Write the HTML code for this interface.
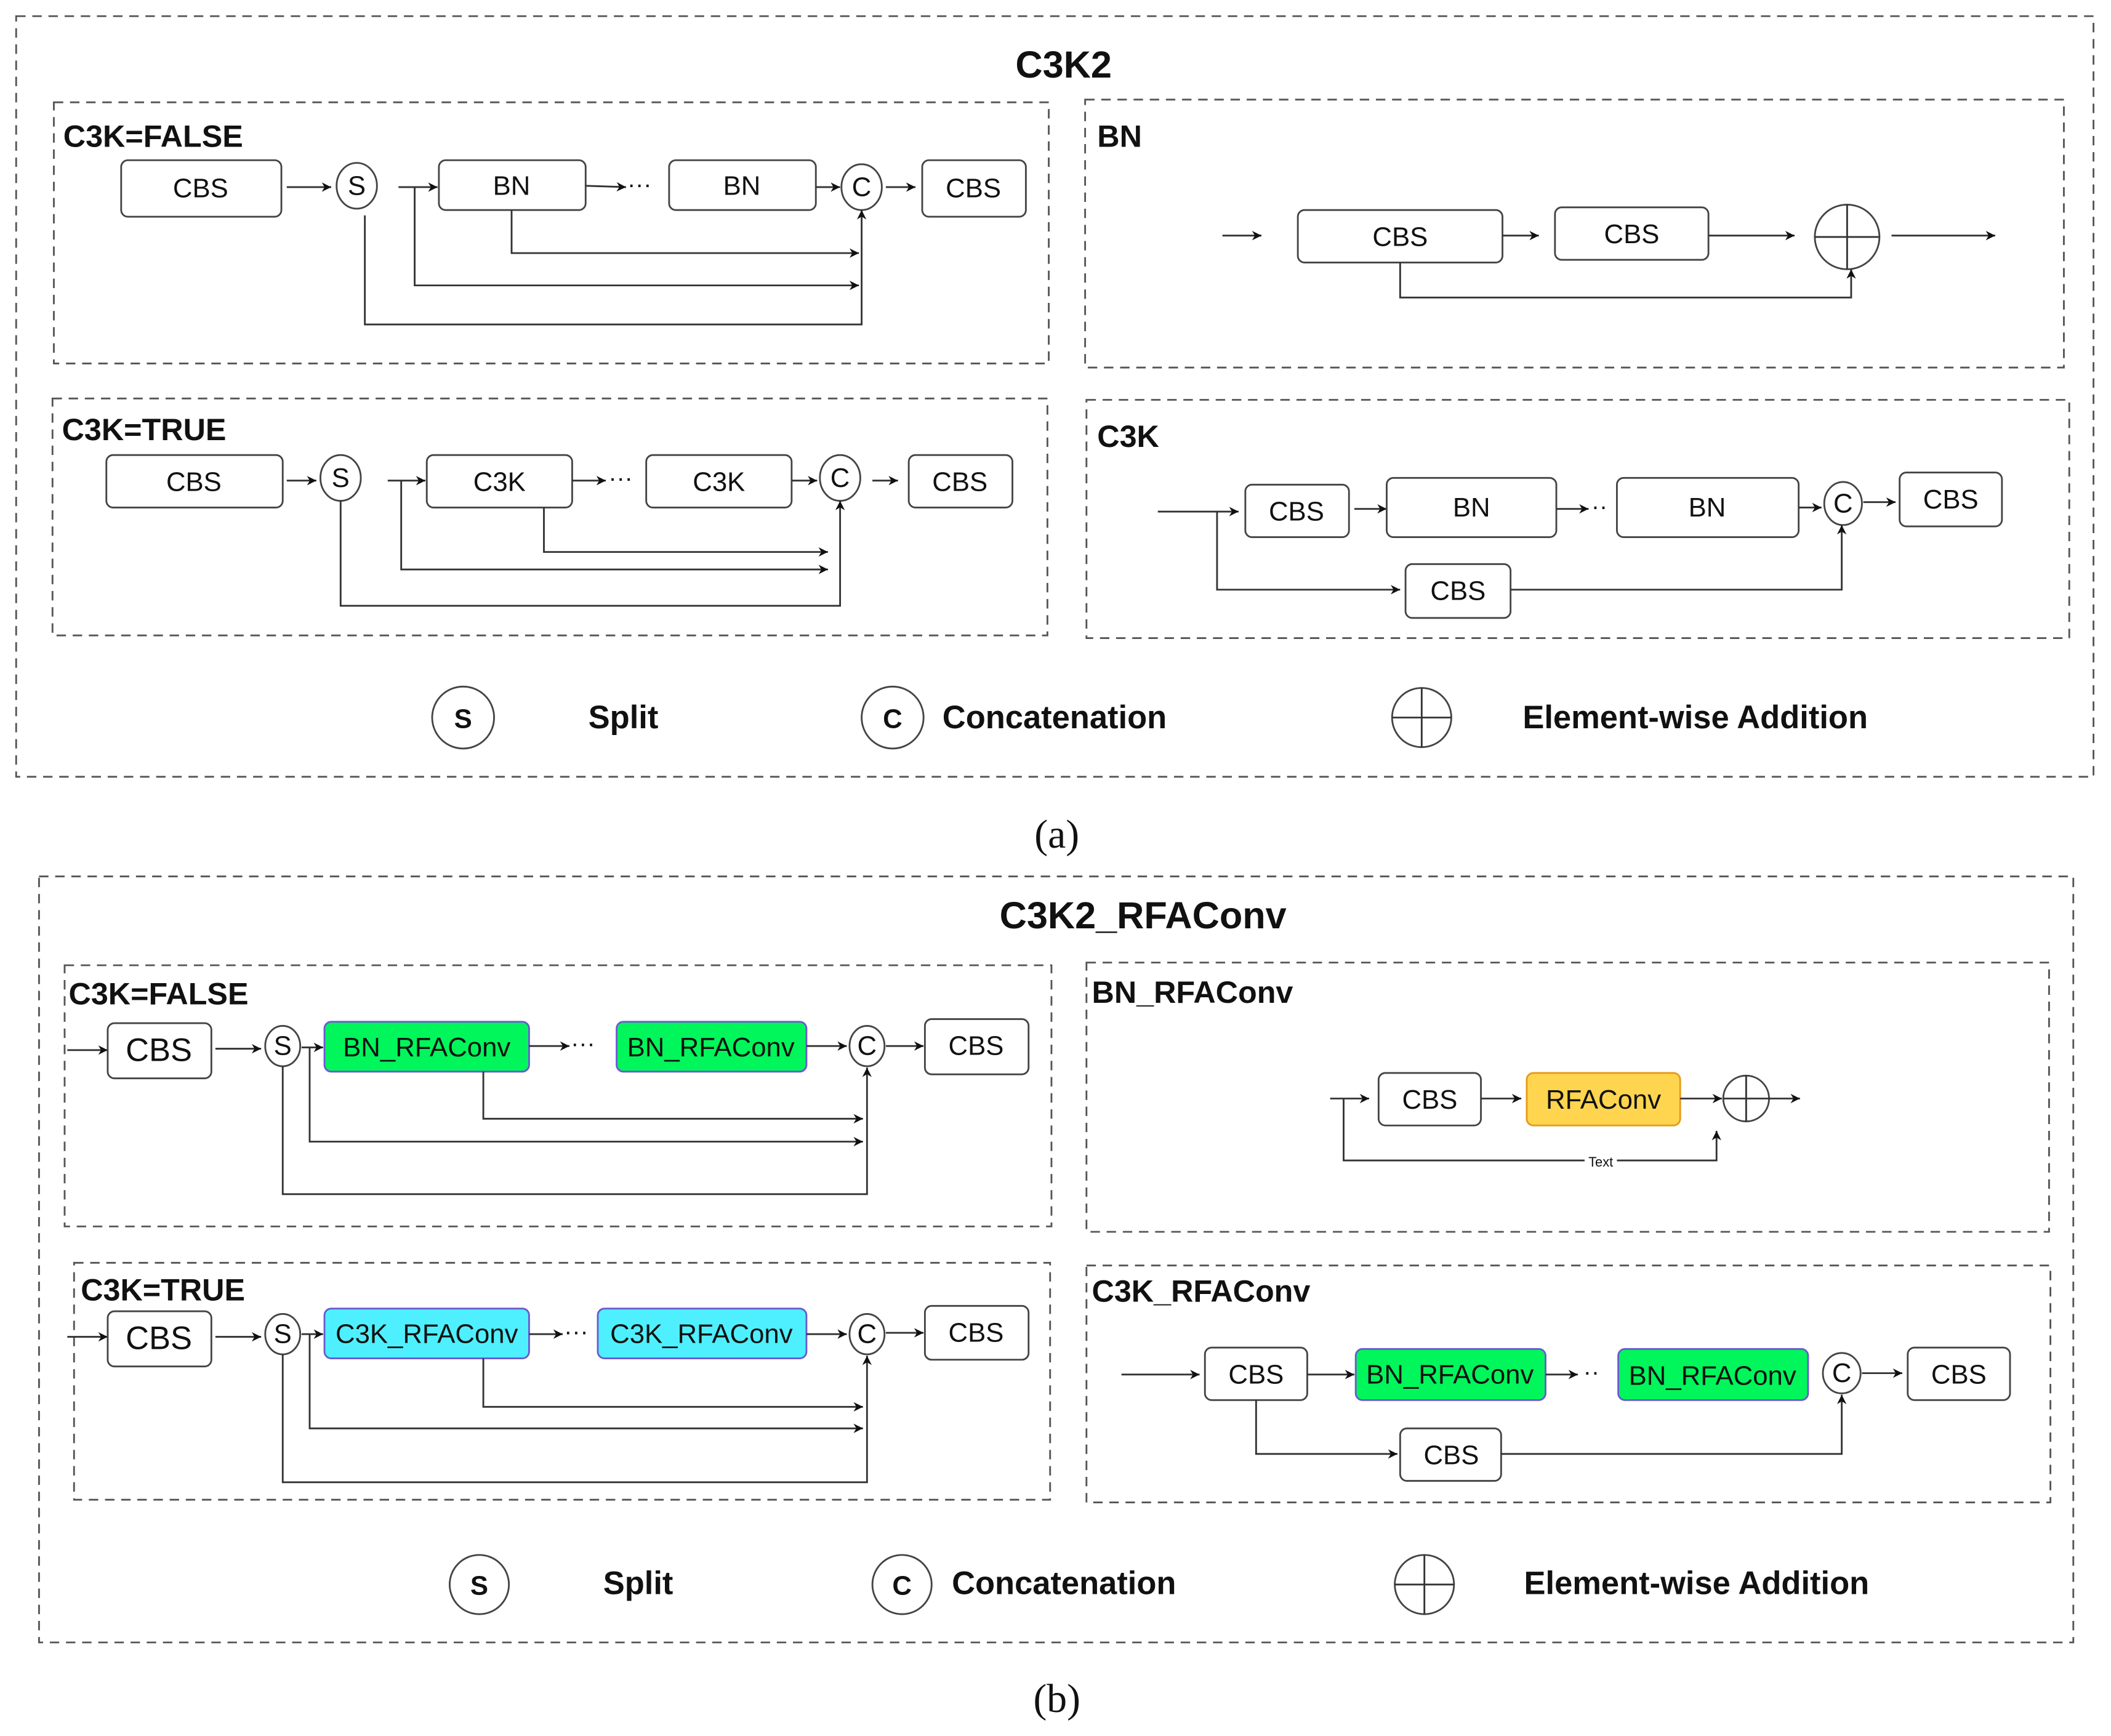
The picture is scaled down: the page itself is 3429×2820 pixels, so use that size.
<!DOCTYPE html>
<html><head><meta charset="utf-8"><style>
html,body{margin:0;padding:0;background:#fff;}
svg{display:block;}
text{font-family:"Liberation Sans",Arial,sans-serif;fill:#111;}
.b{fill:#fff;stroke:#444;stroke-width:1.3;}
.d{fill:none;stroke:#555;stroke-width:1.3;stroke-dasharray:7,5;}
.l{fill:none;stroke:#333;stroke-width:1.3;}
.t{font-size:20px;text-anchor:middle;dominant-baseline:central;}
.h{font-size:23px;font-weight:bold;}
.lg{font-size:24px;font-weight:bold;dominant-baseline:central;}
</style></head><body>
<svg width="3429" height="2820" viewBox="0 0 1568 1289.5" preserveAspectRatio="none">
<defs><marker id="a" viewBox="0 0 10 10" refX="10" refY="5" markerWidth="7" markerHeight="7" markerUnits="userSpaceOnUse" orient="auto"><path d="M0,0L10,5L0,10L3,5z" fill="#111"/></marker></defs>

<!-- (a) -->
<rect class="d" x="12" y="12" width="1543" height="565"/>
<text x="790" y="48" style="font-size:28px;font-weight:bold;text-anchor:middle;dominant-baseline:central">C3K2</text>
<rect class="d" x="40" y="76" width="739" height="194"/>
<rect class="d" x="806" y="74" width="727" height="199"/>
<rect class="d" x="39" y="296" width="739" height="176"/>
<rect class="d" x="807" y="297" width="730" height="177"/>

<!-- C3K=FALSE -->
<text class="h" x="47" y="109">C3K=FALSE</text>
<rect class="b" x="90" y="119" width="119" height="42" rx="5"/><text class="t" x="149" y="140">CBS</text>
<line class="l" x1="213" y1="139" x2="246" y2="139" marker-end="url(#a)"/>
<ellipse class="b" cx="265" cy="138" rx="15" ry="17"/><text class="t" x="265" y="138">S</text>
<line class="l" x1="296" y1="139" x2="325" y2="139" marker-end="url(#a)"/>
<rect class="b" x="326" y="119" width="109" height="37" rx="5"/><text class="t" x="380" y="138">BN</text>
<line class="l" x1="435" y1="138" x2="465" y2="139" marker-end="url(#a)"/><text x="466" y="143" style="font-size:18px">···</text>
<rect class="b" x="497" y="119" width="109" height="37" rx="5"/><text class="t" x="551" y="138">BN</text>
<line class="l" x1="606" y1="139" x2="624" y2="139" marker-end="url(#a)"/>
<ellipse class="b" cx="640" cy="139" rx="15" ry="17"/><text class="t" x="640" y="139">C</text>
<line class="l" x1="658" y1="139" x2="680" y2="139" marker-end="url(#a)"/>
<rect class="b" x="685" y="119" width="77" height="42" rx="5"/><text class="t" x="723" y="140">CBS</text>
<polyline class="l" points="380,156 380,188 638,188" marker-end="url(#a)"/>
<polyline class="l" points="308,139 308,212 638,212" marker-end="url(#a)"/>
<polyline class="l" points="271,160 271,241 640,241 640,156" marker-end="url(#a)"/>

<!-- BN -->
<text class="h" x="815" y="109">BN</text>
<line class="l" x1="908" y1="175" x2="937" y2="175" marker-end="url(#a)"/>
<rect class="b" x="964" y="156" width="152" height="39" rx="5"/><text class="t" x="1040" y="176">CBS</text>
<line class="l" x1="1116" y1="175" x2="1143" y2="175" marker-end="url(#a)"/>
<rect class="b" x="1155" y="154" width="114" height="39" rx="5"/><text class="t" x="1212" y="174">CBS</text>
<line class="l" x1="1269" y1="175" x2="1333" y2="175" marker-end="url(#a)"/>
<circle class="b" cx="1372" cy="176" r="24"/><path class="l" d="M1348,176H1396M1372,152V200"/>
<line class="l" x1="1405" y1="175" x2="1482" y2="175" marker-end="url(#a)"/>
<polyline class="l" points="1040,195 1040,221 1375,221 1375,200" marker-end="url(#a)"/>

<!-- C3K=TRUE -->
<text class="h" x="46" y="327">C3K=TRUE</text>
<rect class="b" x="79" y="338" width="131" height="39" rx="5"/><text class="t" x="144" y="358">CBS</text>
<line class="l" x1="213" y1="357" x2="235" y2="357" marker-end="url(#a)"/>
<ellipse class="b" cx="253" cy="355" rx="15" ry="17"/><text class="t" x="253" y="355">S</text>
<line class="l" x1="288" y1="357" x2="316" y2="357" marker-end="url(#a)"/>
<rect class="b" x="317" y="338" width="108" height="39" rx="5"/><text class="t" x="371" y="358">C3K</text>
<line class="l" x1="425" y1="357" x2="450" y2="357" marker-end="url(#a)"/><text x="452" y="361" style="font-size:18px">···</text>
<rect class="b" x="480" y="338" width="108" height="39" rx="5"/><text class="t" x="534" y="358">C3K</text>
<line class="l" x1="588" y1="357" x2="607" y2="357" marker-end="url(#a)"/>
<ellipse class="b" cx="624" cy="355" rx="15" ry="17"/><text class="t" x="624" y="355">C</text>
<line class="l" x1="648" y1="357" x2="667" y2="357" marker-end="url(#a)"/>
<rect class="b" x="675" y="338" width="77" height="39" rx="5"/><text class="t" x="713" y="358">CBS</text>
<polyline class="l" points="404,377 404,410 615,410" marker-end="url(#a)"/>
<polyline class="l" points="298,357 298,423 615,423" marker-end="url(#a)"/>
<polyline class="l" points="253,372 253,450 624,450 624,372" marker-end="url(#a)"/>

<!-- C3K -->
<text class="h" x="815" y="332">C3K</text>
<line class="l" x1="860" y1="380" x2="920" y2="380" marker-end="url(#a)"/>
<rect class="b" x="925" y="360" width="77" height="39" rx="5"/><text class="t" x="963" y="380">CBS</text>
<line class="l" x1="1006" y1="378" x2="1030" y2="378" marker-end="url(#a)"/>
<rect class="b" x="1030" y="355" width="126" height="44" rx="5"/><text class="t" x="1093" y="377">BN</text>
<line class="l" x1="1156" y1="378" x2="1180" y2="378" marker-end="url(#a)"/><text x="1182" y="382" style="font-size:18px">··</text>
<rect class="b" x="1201" y="355" width="135" height="44" rx="5"/><text class="t" x="1268" y="377">BN</text>
<line class="l" x1="1336" y1="377" x2="1353" y2="377" marker-end="url(#a)"/>
<ellipse class="b" cx="1369" cy="374" rx="14" ry="16"/><text class="t" x="1369" y="374">C</text>
<line class="l" x1="1384" y1="373" x2="1408" y2="373" marker-end="url(#a)"/>
<rect class="b" x="1411" y="351" width="76" height="40" rx="5"/><text class="t" x="1449" y="371">CBS</text>
<polyline class="l" points="904,380 904,438 1040,438" marker-end="url(#a)"/>
<rect class="b" x="1044" y="419" width="78" height="40" rx="5"/><text class="t" x="1083" y="439">CBS</text>
<polyline class="l" points="1122,438 1368,438 1368,390" marker-end="url(#a)"/>

<!-- legend a -->
<circle class="b" cx="344" cy="533" r="23"/><text class="t" x="344" y="534" style="font-weight:bold">S</text>
<text class="lg" x="437" y="533">Split</text>
<circle class="b" cx="663" cy="533" r="23"/><text class="t" x="663" y="534" style="font-weight:bold">C</text>
<text class="lg" x="700" y="533">Concatenation</text>
<circle class="b" cx="1056" cy="533" r="22"/><path class="l" d="M1034,533H1078M1056,511V555"/>
<text class="lg" x="1131" y="533">Element-wise Addition</text>
<text x="785" y="620" style="font-family:'Liberation Serif',serif;font-size:30px;text-anchor:middle;dominant-baseline:central">(a)</text>

<!-- (b) -->
<rect class="d" x="29" y="651" width="1511" height="569"/>
<text x="849" y="680" style="font-size:28px;font-weight:bold;text-anchor:middle;dominant-baseline:central">C3K2_RFAConv</text>
<rect class="d" x="48" y="717" width="733" height="194"/>
<rect class="d" x="807" y="715" width="715" height="200"/>
<rect class="d" x="55" y="938" width="725" height="176"/>
<rect class="d" x="807" y="940" width="716" height="176"/>

<!-- FALSE b -->
<text class="h" x="51" y="746">C3K=FALSE</text>
<line class="l" x1="50" y1="780" x2="80" y2="780" marker-end="url(#a)"/>
<rect class="b" x="80" y="760" width="77" height="41" rx="5"/><text class="t" x="118" y="780" style="font-size:24px">CBS</text>
<line class="l" x1="160" y1="779" x2="194" y2="779" marker-end="url(#a)"/>
<ellipse class="b" cx="210" cy="777" rx="13" ry="15"/><text class="t" x="210" y="777">S</text>
<line class="l" x1="224" y1="778" x2="240" y2="778" marker-end="url(#a)"/>
<rect x="241" y="759" width="152" height="37" rx="5" fill="#00f65a" stroke="#6a5ad0" stroke-width="1.3"/><text class="t" x="317" y="778">BN_RFAConv</text>
<line class="l" x1="393" y1="777" x2="423" y2="777" marker-end="url(#a)"/><text x="424" y="781" style="font-size:18px">···</text>
<rect x="458" y="759" width="141" height="37" rx="5" fill="#00f65a" stroke="#6a5ad0" stroke-width="1.3"/><text class="t" x="528" y="778">BN_RFAConv</text>
<line class="l" x1="599" y1="777" x2="629" y2="777" marker-end="url(#a)"/>
<ellipse class="b" cx="644" cy="777" rx="13" ry="15"/><text class="t" x="644" y="777">C</text>
<line class="l" x1="658" y1="777" x2="686" y2="777" marker-end="url(#a)"/>
<rect class="b" x="687" y="757" width="77" height="41" rx="5"/><text class="t" x="725" y="777">CBS</text>
<polyline class="l" points="359,796 359,831 641,831" marker-end="url(#a)"/>
<polyline class="l" points="230,778 230,848 641,848" marker-end="url(#a)"/>
<polyline class="l" points="210,792 210,887 644,887 644,793" marker-end="url(#a)"/>

<!-- BN_RFAConv -->
<text class="h" x="811" y="745">BN_RFAConv</text>
<line class="l" x1="988" y1="816" x2="1017" y2="816" marker-end="url(#a)"/>
<rect class="b" x="1024" y="797" width="76" height="39" rx="5"/><text class="t" x="1062" y="817">CBS</text>
<line class="l" x1="1100" y1="816" x2="1130" y2="816" marker-end="url(#a)"/>
<rect x="1134" y="797" width="114" height="39" rx="5" fill="#ffd54f" stroke="#e69a1a" stroke-width="1.3"/><text class="t" x="1191" y="817">RFAConv</text>
<line class="l" x1="1248" y1="816" x2="1279" y2="816" marker-end="url(#a)"/>
<circle class="b" cx="1297" cy="816" r="17"/><path class="l" d="M1280,816H1314M1297,799V833"/>
<line class="l" x1="1314" y1="816" x2="1337" y2="816" marker-end="url(#a)"/>
<polyline class="l" points="998,816 998,862 1275,862 1275,840" marker-end="url(#a)"/>
<rect x="1177" y="857" width="24" height="10" fill="#fff"/><text x="1189" y="863" style="font-size:10px;text-anchor:middle;dominant-baseline:central">Text</text>

<!-- TRUE b -->
<text class="h" x="60" y="966">C3K=TRUE</text>
<line class="l" x1="50" y1="993" x2="80" y2="993" marker-end="url(#a)"/>
<rect class="b" x="80" y="974" width="77" height="41" rx="5"/><text class="t" x="118" y="994" style="font-size:24px">CBS</text>
<line class="l" x1="160" y1="993" x2="194" y2="993" marker-end="url(#a)"/>
<ellipse class="b" cx="210" cy="991" rx="13" ry="15"/><text class="t" x="210" y="991">S</text>
<line class="l" x1="224" y1="991" x2="240" y2="991" marker-end="url(#a)"/>
<rect x="241" y="972" width="152" height="37" rx="5" fill="#4ef0ff" stroke="#6a5ad0" stroke-width="1.3"/><text class="t" x="317" y="991">C3K_RFAConv</text>
<line class="l" x1="393" y1="991" x2="418" y2="991" marker-end="url(#a)"/><text x="419" y="995" style="font-size:18px">···</text>
<rect x="444" y="972" width="155" height="37" rx="5" fill="#4ef0ff" stroke="#6a5ad0" stroke-width="1.3"/><text class="t" x="521" y="991">C3K_RFAConv</text>
<line class="l" x1="599" y1="991" x2="629" y2="991" marker-end="url(#a)"/>
<ellipse class="b" cx="644" cy="991" rx="13" ry="15"/><text class="t" x="644" y="991">C</text>
<line class="l" x1="658" y1="990" x2="686" y2="990" marker-end="url(#a)"/>
<rect class="b" x="687" y="970" width="77" height="40" rx="5"/><text class="t" x="725" y="990">CBS</text>
<polyline class="l" points="359,1009 359,1045 641,1045" marker-end="url(#a)"/>
<polyline class="l" points="230,991 230,1061 641,1061" marker-end="url(#a)"/>
<polyline class="l" points="210,1006 210,1101 644,1101 644,1007" marker-end="url(#a)"/>

<!-- C3K_RFAConv -->
<text class="h" x="811" y="967">C3K_RFAConv</text>
<line class="l" x1="833" y1="1021" x2="891" y2="1021" marker-end="url(#a)"/>
<rect class="b" x="895" y="1001" width="76" height="39" rx="5"/><text class="t" x="933" y="1021">CBS</text>
<line class="l" x1="971" y1="1021" x2="1006" y2="1021" marker-end="url(#a)"/>
<rect x="1007" y="1002" width="141" height="38" rx="5" fill="#00f65a" stroke="#6a5ad0" stroke-width="1.3"/><text class="t" x="1077" y="1021">BN_RFAConv</text>
<line class="l" x1="1148" y1="1021" x2="1172" y2="1021" marker-end="url(#a)"/><text x="1176" y="1025" style="font-size:18px">··</text>
<rect x="1202" y="1002" width="141" height="38" rx="5" fill="#00f65a" stroke="#6a5ad0" stroke-width="1.3"/><text class="t" x="1272" y="1022">BN_RFAConv</text>
<ellipse class="b" cx="1368" cy="1020" rx="14" ry="15"/><text class="t" x="1368" y="1020">C</text>
<line class="l" x1="1383" y1="1020" x2="1413" y2="1020" marker-end="url(#a)"/>
<rect class="b" x="1417" y="1001" width="76" height="39" rx="5"/><text class="t" x="1455" y="1021">CBS</text>
<polyline class="l" points="933,1040 933,1080 1038,1080" marker-end="url(#a)"/>
<rect class="b" x="1040" y="1061" width="75" height="39" rx="5"/><text class="t" x="1078" y="1081">CBS</text>
<polyline class="l" points="1115,1080 1368,1080 1368,1036" marker-end="url(#a)"/>

<!-- legend b -->
<circle class="b" cx="356" cy="1177" r="22"/><text class="t" x="356" y="1178" style="font-weight:bold">S</text>
<text class="lg" x="448" y="1176">Split</text>
<circle class="b" cx="670" cy="1177" r="22"/><text class="t" x="670" y="1178" style="font-weight:bold">C</text>
<text class="lg" x="707" y="1176">Concatenation</text>
<circle class="b" cx="1058" cy="1177" r="22"/><path class="l" d="M1036,1177H1080M1058,1155V1199"/>
<text class="lg" x="1132" y="1176">Element-wise Addition</text>
<text x="785" y="1262" style="font-family:'Liberation Serif',serif;font-size:30px;text-anchor:middle;dominant-baseline:central">(b)</text>
</svg>
</body></html>
